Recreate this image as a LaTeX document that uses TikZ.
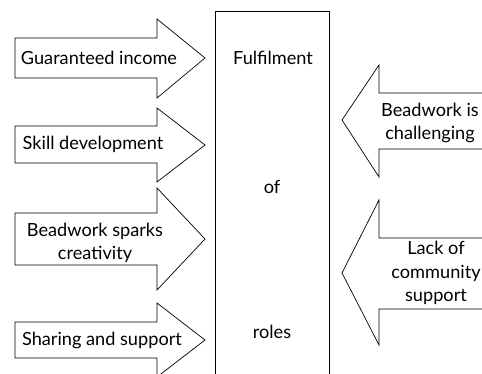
\documentclass[tikz,border=0pt]{standalone}
\usepackage{fontspec}
\setmainfont{Lato}
\usepackage{tikz}
\begin{document}
\begin{tikzpicture}[
    x=0.03cm, y=-0.03cm,
    blk/.style={draw=black,fill=white,line width=0.6pt,line join=miter},
    core/.style={draw=black,fill=white,line width=0.7pt},
    lbl/.style={inner sep=0pt,align=center,font=\fontsize{15.5}{20}\selectfont}
  ]
    \clip (0,0) rectangle (482,374);

    % central box, runs off the bottom
    \draw[core] (215,11) rectangle (329,400);

    % arrows pointing in from the left
    \draw[blk] (15,38) -- (157,38) -- (157,19) -- (205,58) -- (157,98) -- (157,78) -- (15,78) -- cycle;
    \draw[blk] (15,126) -- (157,126) -- (157,108) -- (205,145) -- (157,182) -- (157,163) -- (15,163) -- cycle;
    \draw[blk] (15,213) -- (157,213) -- (157,188) -- (205,239) -- (157,290) -- (157,265) -- (15,265) -- cycle;
    \draw[blk] (15,322) -- (157,322) -- (157,303) -- (205,340) -- (157,377) -- (157,358) -- (15,358) -- cycle;

    % arrows pointing in from the right
    \draw[blk] (490,93) -- (379,93) -- (379,65) -- (342,120) -- (379,177) -- (379,149) -- (490,149) -- cycle;
    \draw[blk] (490,238) -- (379,238) -- (379,200) -- (342,273) -- (379,345) -- (379,309) -- (490,309) -- cycle;

    \node[lbl] (income) at (99,58) {Guaranteed income};
    \node[lbl] (skill) at (93,144) {Skill development};
    \node[lbl] (creative) at (95,243) {Beadwork sparks\\creativity};
    \node[lbl] (sharing) at (102,340) {Sharing and support};

    \node[lbl] (fulfil) at (273,58) {Fulfilment};
    \node[lbl] (of) at (272,187) {of};
    \node[lbl] (roles) at (272,332) {roles};

    \node[lbl] (challenge) at (430,123) {Beadwork is\\challenging};
    \node[lbl] (community) at (436,273) {Lack of\\community\\support};
  \end{tikzpicture}
\end{document}
